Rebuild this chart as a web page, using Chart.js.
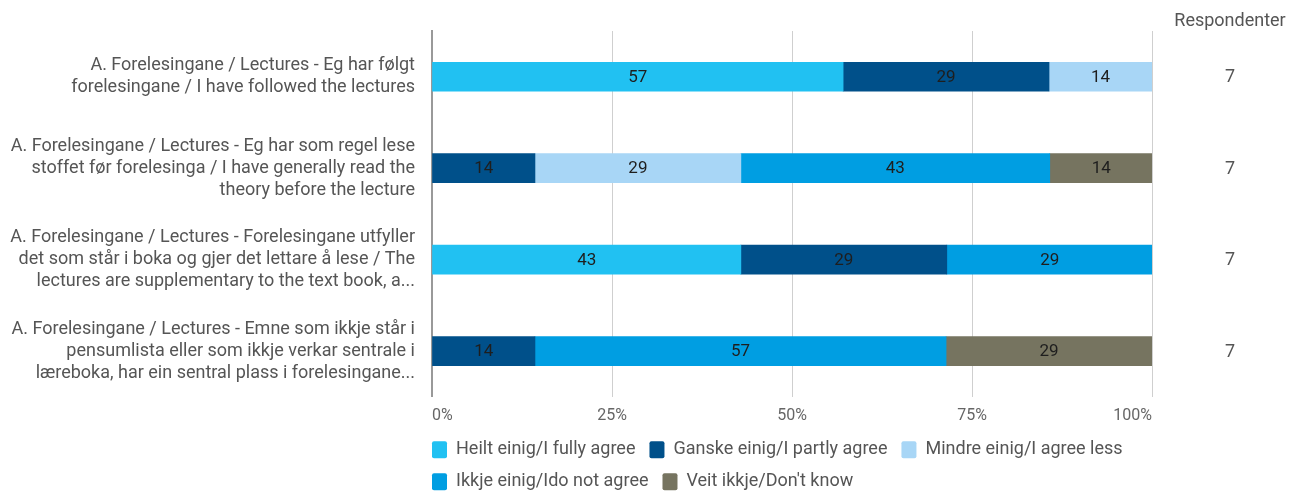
<!DOCTYPE html>
<html>
<head>
<meta charset="utf-8">
<script src="https://cdn.jsdelivr.net/npm/chart.js@4"></script>
<style>
  html, body { margin: 0; padding: 0; background: #fff; }
  #wrap { width: 1298px; height: 492px; }
</style>
</head>
<body>
<div id="wrap"><canvas id="chart"></canvas></div>
<script>
// statements on the y axis, top to bottom
var statements = [
	["A. Forelesingane / Lectures - Eg har følgt", "forelesingane / I have followed the lectures"],
	["A. Forelesingane / Lectures - Eg har som regel lese", "stoffet før forelesinga / I have generally read the", "theory before the lecture"],
	["A. Forelesingane / Lectures - Forelesingane utfyller", "det som står i boka og gjer det lettare å lese / The", "lectures are supplementary to the text book, a..."],
	["A. Forelesingane / Lectures - Emne som ikkje står i", "pensumlista eller som ikkje verkar sentrale i", "læreboka, har ein sentral plass i forelesingane..."]
];

// percent of respondents per answer, one value per statement
var fullyAgree   = [57.1, null, 42.9, null];
var partlyAgree  = [28.6, 14.3, 28.6, 14.3];
var agreeLess    = [14.3, 28.6, null, null];
var notAgree     = [null, 42.9, 28.6, 57.1];
var dontKnow     = [null, 14.3, null, 28.6];

var respondents  = [7, 7, 7, 7];
var xTicks       = [0, 25, 50, 75, 100];

var FONT = "Roboto, 'Noto Sans', sans-serif";
var LEGEND_PAD = 14;

//draws the value in the middle of every bar segment
var barValues = {
	id: "barValues",
	afterDatasetsDraw: function(chart) {
		var ctx = chart.ctx;
		ctx.save();
		ctx.font = "17px " + FONT;
		ctx.fillStyle = "#1e1e1e";
		ctx.textAlign = "center";
		ctx.textBaseline = "middle";
		chart.data.datasets.forEach(function(ds, i) {
			var meta = chart.getDatasetMeta(i);
			meta.data.forEach(function(bar, j) {
				var v = ds.data[j];
				if (v === null || v === undefined) return;
				var cx = (bar.x + bar.base) / 2;
				ctx.fillText(Math.round(v), cx, bar.y + 1);
			});
		});
		ctx.restore();
	}
};

//the "Respondenter" column on the right
var respondentColumn = {
	id: "respondentColumn",
	afterDraw: function(chart) {
		var ctx = chart.ctx;
		var y = chart.scales.y;
		ctx.save();
		ctx.font = "18px " + FONT;
		ctx.fillStyle = "#555";
		ctx.textAlign = "center";
		ctx.textBaseline = "middle";
		ctx.fillText("Respondenter", 1230, 21);
		respondents.forEach(function(n, i) {
			ctx.fillText(String(n), 1230, y.getPixelForValue(i) + 1);
		});
		ctx.restore();
	}
};

//legend boxes start flush with the plot area and sit a bit closer to the axis
var legendShift = {
	id: "legendShift",
	afterLayout: function(chart) {
		var lg = chart.legend;
		if (!lg) return;
		var h = lg.height;
		lg.left = chart.chartArea.left - LEGEND_PAD;
		lg.top = chart.chartArea.bottom + 30;
		lg.bottom = lg.top + h;
	}
};

function series(label, data, color) {
	return {
		label: label,
		data: data,
		backgroundColor: color,
		borderWidth: 0,
		barThickness: 29
	};
}

new Chart(document.getElementById("chart"), {
	type: "bar",
	data: {
		labels: statements,
		datasets: [
			series("Heilt einig/I fully agree", fullyAgree, "#21c1f2"),
			series("Ganske einig/I partly agree", partlyAgree, "#00508a"),
			series("Mindre einig/I agree less", agreeLess, "#a8d6f6"),
			series("Ikkje einig/Ido not agree", notAgree, "#009ee2"),
			series("Veit ikkje/Don't know", dontKnow, "#767460")
		]
	},
	options: {
		indexAxis: "y",
		responsive: true,
		maintainAspectRatio: false,
		animation: false,
		layout: { padding: { top: 31, right: 146, bottom: -18, left: 0 } },
		scales: {
			x: {
				stacked: true,
				min: 0,
				max: 100,
				afterBuildTicks: function(scale) {
					scale.ticks = xTicks.map(function(v) { return { value: v }; });
				},
				grid: { color: "#cfcfcf", drawTicks: false },
				border: { display: false },
				ticks: {
					padding: 10,
					align: "inner",
					color: "#666",
					font: { family: FONT, size: 16 },
					callback: function(v) { return v + "%"; }
				}
			},
			y: {
				stacked: true,
				grid: { display: false, drawTicks: false },
				border: { display: true, color: "#999", width: 2 },
				afterFit: function(scale) {
					scale.width = 432;
					scale.paddingTop = 0;
					scale.paddingBottom = 0;
				},
				ticks: {
					padding: 17,
					color: "#555",
					font: { family: FONT, size: 18, lineHeight: "22px" }
				}
			}
		},
		plugins: {
			tooltip: { enabled: false },
			legend: {
				position: "bottom",
				align: "start",
				fullSize: false,
				labels: {
					color: "#555",
					font: { family: FONT, size: 18 },
					boxWidth: 15,
					boxHeight: 17,
					padding: LEGEND_PAD,
					useBorderRadius: true,
					borderRadius: 2
				}
			}
		}
	},
	plugins: [barValues, respondentColumn, legendShift]
});
</script>
</body>
</html>
